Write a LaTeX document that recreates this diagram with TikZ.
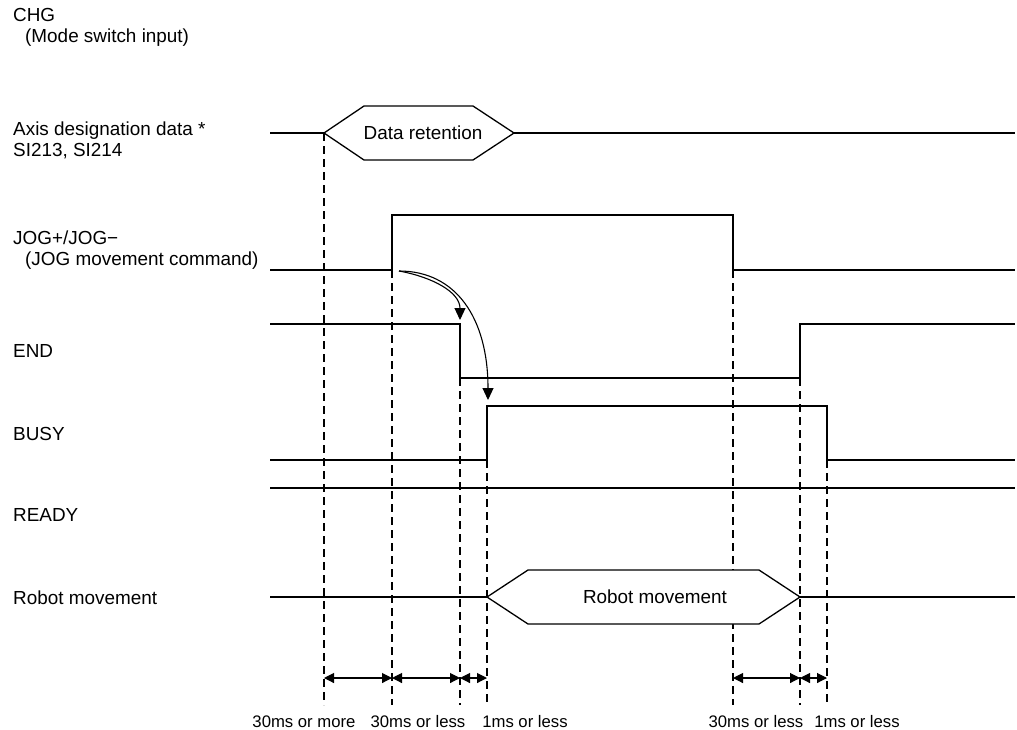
\documentclass[tikz,border=0pt]{standalone}
\usepackage{fontspec}
\setmainfont{Liberation Sans}
\usetikzlibrary{arrows.meta}
\begin{document}
\begin{tikzpicture}[x=1pt,y=-1pt,
  sig/.style={line width=1.3pt,line join=miter},
  guide/.style={line width=1.1pt,dash pattern=on 8pt off 5pt},
  lbl/.style={anchor=base west,inner sep=0pt,font=\fontsize{18.9}{22}\selectfont},
  tlbl/.style={anchor=base,inner sep=0pt,font=\fontsize{16.7}{20}\selectfont},
  dim/.style={line width=1.1pt,{Triangle[length=10pt,width=10pt]}-{Triangle[length=10pt,width=10pt]}},
  cause/.style={line width=1.1pt,-{Triangle[length=12pt,width=11pt]}},
  hex/.style={sig,fill=white}]
\useasboundingbox (0,0) rectangle (1017,729);

% signal names
\node[lbl] (lchg) at (13,21) {CHG};
\node[lbl] (lchg2) at (25,42) {(Mode switch input)};
\node[lbl] (laxis) at (13,135) {Axis designation data *};
\node[lbl] (laxis2) at (13,156) {SI213, SI214};
\node[lbl] (ljog) at (13,244) {JOG+/JOG\textminus};
\node[lbl] (ljog2) at (25,265) {(JOG movement command)};
\node[lbl] (lend) at (13,357) {END};
\node[lbl] (lbusy) at (13,440) {BUSY};
\node[lbl] (lready) at (13,521) {READY};
\node[lbl] (lrobot) at (13,604) {Robot movement};

% edge instants (top of each guide) and guide feet
\coordinate (eA) at (324,133);  \coordinate (fA) at (324,705);
\coordinate (eB) at (392,270);  \coordinate (fB) at (392,705);
\coordinate (eC) at (460,378);  \coordinate (fC) at (460,705);
\coordinate (eD) at (487,460);  \coordinate (fD) at (487,705);
\coordinate (eE) at (733,270);  \coordinate (fE) at (733,705);
\coordinate (eF) at (800,378);  \coordinate (fF) at (800,705);
\coordinate (eG) at (827,460);  \coordinate (fG) at (827,705);

% dashed timing guides
\foreach \g in {A,B,C,D,E,F,G}
  \draw[guide] (e\g) -- (f\g);

% axis designation data
\draw[sig] (270,133) -- (eA);
\draw[hex] (eA) -- (364,106) -- (473,106) -- (514,133) -- (473,160) -- (364,160) -- cycle;
\draw[sig] (514,133) -- (1015,133);
\node[font=\fontsize{18.9}{22}\selectfont] (tdata) at (423,133) {Data retention};

% JOG command
\draw[sig] (270,270) -- (eB) -- (392,215) -- (733,215) -- (eE) -- (1015,270);

% END
\draw[sig] (270,324) -- (460,324) -- (eC) -- (eF) -- (800,324) -- (1015,324);

% BUSY
\draw[sig] (270,460) -- (eD) -- (487,406) -- (827,406) -- (eG) -- (1015,460);

% READY
\draw[sig] (270,488) -- (1015,488);

% robot movement
\coordinate (rL) at (487,597);
\coordinate (rR) at (800,597);
\draw[sig] (270,597) -- (rL);
\draw[hex] (rL) -- (528,570) -- (759,570) -- (rR) -- (759,624) -- (528,624) -- cycle;
\draw[sig] (rR) -- (1015,597);
\node[font=\fontsize{18.9}{22}\selectfont] (trobot) at (655,597) {Robot movement};

% cause-effect arrows from the JOG rising edge
\coordinate (src) at (399,271);
\coordinate (endtip) at (460,320);
\coordinate (busytip) at (488,400);
\draw[cause] (src) .. controls (432,277) and (460,292) .. (endtip);
\draw[cause] (src) .. controls (456,271) and (488,318) .. (busytip);

% dimension arrows
\coordinate (dA) at (324,678); \coordinate (dB) at (392,678);
\coordinate (dC) at (460,678); \coordinate (dD) at (487,678);
\coordinate (dE) at (733,678); \coordinate (dF) at (800,678);
\coordinate (dG) at (827,678);
\draw[dim] (dA) -- (dB);
\draw[dim] (dB) -- (dC);
\draw[dim] (dC) -- (dD);
\draw[dim] (dE) -- (dF);
\draw[dim] (dF) -- (dG);

% interval labels
\node[tlbl] (t1) at (304,727) {30ms or more};
\node[tlbl] (t2) at (418,727) {30ms or less};
\node[tlbl] (t3) at (525,727) {1ms or less};
\node[tlbl] (t4) at (756,727) {30ms or less};
\node[tlbl] (t5) at (857,727) {1ms or less};
\end{tikzpicture}
\end{document}
